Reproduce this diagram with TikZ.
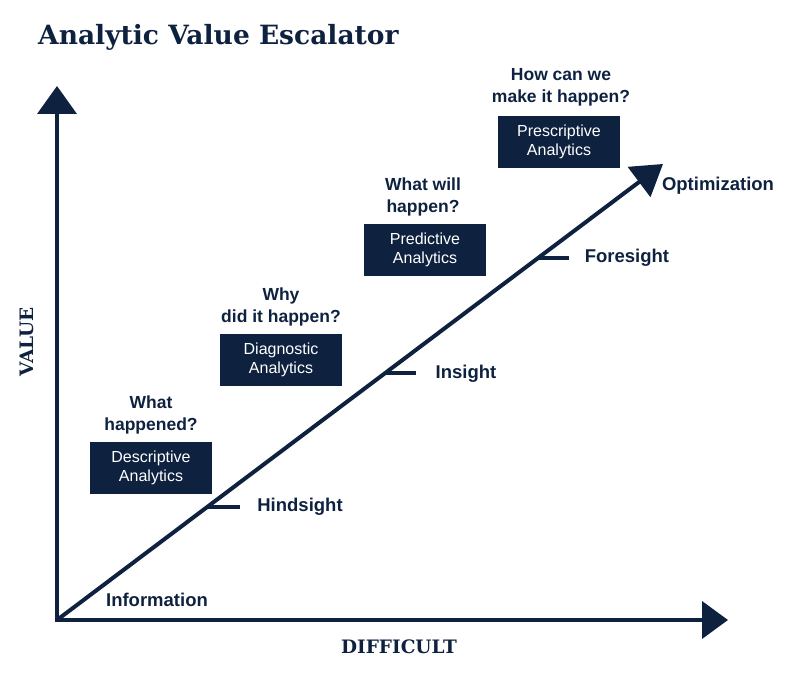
\documentclass[tikz,border=0pt]{standalone}
\usepackage{fontspec}
\setmainfont{Liberation Sans}
\newfontfamily\slabfont{DejaVu Serif}
\usetikzlibrary{arrows.meta}
\definecolor{navy}{HTML}{0E2240}
\tikzset{
  axis/.style={draw=navy, line width=4pt},
  lbl/.style={font=\fontsize{18.5}{20}\selectfont\bfseries, text=navy, inner sep=0pt},
  quest/.style={font=\fontsize{17.5}{22}\selectfont\bfseries, text=navy, align=center, inner sep=0pt},
  abox/.style={fill=navy, text=white, minimum width=122pt, minimum height=52pt, align=center, inner sep=0pt,
    font=\fontsize{16}{19.5}\selectfont},
  tickline/.style={draw=navy, line width=3.5pt},
  axtitle/.style={text=navy, inner sep=0pt, font=\slabfont\fontsize{18.5}{20}\selectfont\bfseries},
}
\begin{document}
\begin{tikzpicture}[x=1pt,y=-1pt]
\useasboundingbox (0,0) rectangle (791,700);
% title
\node[anchor=west, text=navy, inner sep=0pt, font=\slabfont\fontsize{26.5}{30}\selectfont\bfseries] (title) at (38,37) {Analytic Value Escalator};
% axes
\coordinate (O) at (57,620);
\coordinate (ytip) at (57,86);
\coordinate (xtip) at (728,620);
\coordinate (dtip) at (663,164);
\draw[axis, -{Triangle[length=28pt,width=39pt]}] (57,622) -- (ytip);
\draw[axis, -{Triangle[length=26pt,width=37pt]}] (55,620) -- (xtip);
\draw[axis, line cap=round, -{Triangle[length=30pt,width=37pt]}] (O) -- (dtip);
% ticks
\coordinate (t1) at (207,507);
\coordinate (t1e) at (240,507);
\coordinate (t2) at (385,373);
\coordinate (t2e) at (416,373);
\coordinate (t3) at (538,258);
\coordinate (t3e) at (569,258);
\draw[tickline] (t1) -- (t1e);
\draw[tickline] (t2) -- (t2e);
\draw[tickline] (t3) -- (t3e);
% labels on line
\node[lbl] (info) at (157,600) {Information};
\node[lbl] (hind) at (300,507) {Hindsight};
\node[lbl] (ins) at (466,374) {Insight};
\node[lbl] (fore) at (627,258) {Foresight};
\node[lbl] (opt) at (718,186) {Optimization};
% boxes
\node[abox] (desc) at (151,468) {Descriptive\\Analytics};
\node[abox] (diag) at (281,360) {Diagnostic\\Analytics};
\node[abox] (pred) at (425,250) {Predictive\\Analytics};
\node[abox] (pres) at (559,142) {Prescriptive\\Analytics};
% questions
\node[quest] (q1) at (151,415) {What\\happened?};
\node[quest] (q2) at (281,307) {Why\\did it happen?};
\node[quest] (q3) at (423,197) {What will\\happen?};
\node[quest] (q4) at (561,87) {How can we\\make it happen?};
% axis titles
\node[axtitle, rotate=90] (val) at (27,342) {VALUE};
\node[axtitle] (diff) at (399,647) {DIFFICULT};
\end{tikzpicture}
\end{document}
